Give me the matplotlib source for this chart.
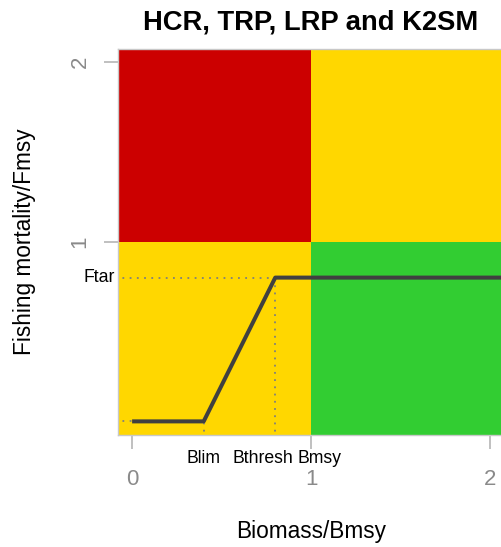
import matplotlib.pyplot as plt
from matplotlib.patches import Rectangle

plt.rcParams['font.family'] = ['Liberation Sans', 'DejaVu Sans']

# Reference points (relative to Bmsy / Fmsy)
Blim = 0.4
Bthresh = 0.8
Bmsy = 1.0
Ftar = 0.8
Fmin = 0.0

# HCR line vertices
hcr_b = [0.0, Blim, Bthresh, 2.5]
hcr_f = [Fmin, Fmin, Ftar, Ftar]

# Kobe zones: (x0, x1, y0, y1, colour)
zones = [
    (-1.0, Bmsy, 1.0, 3.0, "#CC0000"),
    (Bmsy, 3.0, 1.0, 3.0, "#FFD700"),
    (-1.0, Bmsy, -1.0, 1.0, "#FFD700"),
    (Bmsy, 3.0, -1.0, 1.0, "#32CD32"),
]

ref_labels = ["Blim", "Bthresh", "Bmsy"]
ref_values = [Blim, Bthresh, Bmsy]
label_shift = [0.0, -0.07, 0.046]  # nudges so labels don't overlap

x_ticks = [0, 1, 2]
y_ticks = [1, 2]

W, H = 502, 547
fig = plt.figure(figsize=(W / 100, H / 100), dpi=100)
ax = fig.add_axes([118.5 / W, (H - 434.5) / H, (W - 118.5) / W, 385.5 / H])

for x0, x1, y0, y1, c in zones:
    ax.add_patch(Rectangle((x0, y0), x1 - x0, y1 - y0, facecolor=c, edgecolor="none", zorder=1))

# dotted guides
dot = dict(color="#7f7f7f", lw=1.3, linestyle=(0, (1, 3)), zorder=2)
ax.plot([-0.5, Bthresh], [Ftar, Ftar], **dot)
ax.plot([Bthresh, Bthresh], [-0.5, Ftar], **dot)
ax.plot([Blim, Blim], [-0.5, Fmin], **dot)
ax.plot([-0.5, 0.0], [Fmin, Fmin], **dot)

ax.plot(hcr_b, hcr_f, color="#404040", lw=2.9, solid_capstyle="butt", zorder=3)

ax.set_xlim(-0.076, 2.067)
ax.set_ylim(-0.073, 2.072)

ax.set_xticks(x_ticks)
ax.set_yticks(y_ticks)
ax.tick_params(axis="both", colors="#b5b5b5", length=10, width=1.2, labelsize=16,
               labelcolor="#8a8a8a")
ax.tick_params(axis="x", pad=15)
ax.tick_params(axis="y", pad=10, labelrotation=90)
for lab in ax.get_yticklabels():
    lab.set_va("center")
for s in ax.spines.values():
    s.set_color("#c8c8c8")
    s.set_linewidth(1.0)

ax.text(-0.009, Ftar, "Ftar", transform=ax.get_yaxis_transform(), ha="right", va="center",
        fontsize=12.7, color="black")
for name, v, dx in zip(ref_labels, ref_values, label_shift):
    ax.text(v + dx, -0.074, name, transform=ax.get_xaxis_transform(), ha="center",
            va="baseline", fontsize=12.7, color="black")

ax.set_title("HCR, TRP, LRP and K2SM", fontsize=19.7, fontweight="bold", pad=14)
fig.text(311 / W, (H - 538) / H, "Biomass/Bmsy", ha="center", va="baseline", fontsize=16.3)
fig.text(31 / W, (H - 242) / H, "Fishing mortality/Fmsy", ha="center", va="baseline",
         rotation=90, fontsize=16.3, rotation_mode="anchor")

fig.savefig("out.png", dpi=100)
